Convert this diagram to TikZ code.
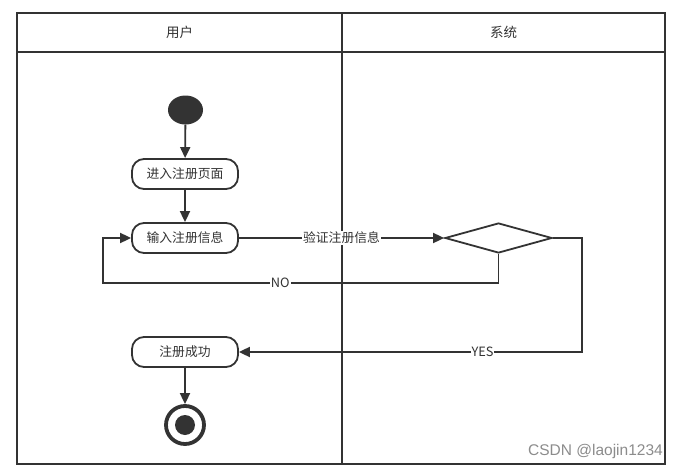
\documentclass[tikz,border=0pt]{standalone}
\usepackage{fontspec}
\newfontfamily\cjk{Noto Sans CJK SC}
\newfontfamily\wmfont{Liberation Sans}
\usetikzlibrary{shapes.geometric,arrows.meta}
\definecolor{ink}{HTML}{333333}
\tikzset{
  lane/.style={draw=ink,line width=2pt},
  act/.style={draw=ink,line width=1.8pt,rounded corners=12pt,minimum width=106pt,minimum height=30pt,inner sep=0pt,font=\cjk\fontsize{12.8}{14}\selectfont,text=ink},
  dec/.style={diamond,draw=ink,line width=1.8pt,minimum width=107pt,minimum height=30pt,inner sep=0pt,aspect=3.5},
  conn/.style={draw=ink,line width=1.8pt,-{Triangle[length=11pt,width=10pt]}},
  lbl/.style={fill=white,inner sep=1pt,font=\cjk\fontsize{12.8}{14}\selectfont,text=ink},
  hdr/.style={font=\cjk\fontsize{13.5}{15}\selectfont,text=ink},
}
\begin{document}
\begin{tikzpicture}[x=1pt,y=-1pt]
\useasboundingbox[fill=white] (0,0) rectangle (681,471);
% swimlanes
\draw[lane] (17,13) rectangle (665,464);
\draw[lane] (17,52) -- (665,52);
\draw[lane] (342,13) -- (342,464);
\node[hdr] (h1) at (179.5,32.5) {用户};
\node[hdr] (h2) at (503.5,32.5) {系统};
% nodes
\node[ellipse,fill=ink,minimum width=35pt,minimum height=29pt,inner sep=0pt] (start) at (185.5,110) {};
\node[act] (n1) at (185,174) {进入注册页面};
\node[act] (n2) at (185,238) {输入注册信息};
\node[dec] (d) at (498.5,238) {};
\node[act] (n3) at (185,352) {注册成功};
\node[circle,draw=ink,line width=3.8pt,minimum size=38pt,inner sep=0pt] (endo) at (185,425) {};
\node[circle,fill=ink,minimum size=20pt,inner sep=0pt] (endi) at (185,425) {};
\coordinate (cno) at (103,283);
\coordinate (cyes) at (582,238);
% connectors
\draw[conn] (start) -- (n1);
\draw[conn] (n1) -- (n2);
\draw[conn] (n2.east) -- node[lbl] {验证注册信息} (d.west);
\draw[conn] (d.south) -- (d.south |- cno) -- node[lbl,pos=0.552] {NO} (cno) -- (cno |- n2.west) -- (n2.west);
\draw[conn] (d.east) -- (cyes) -- (cyes |- n3.east) -- node[lbl,pos=0.29] {YES} (n3.east);
\draw[conn] (n3) -- (endo);
% watermark
\node[font=\wmfont\fontsize{15.5}{17}\selectfont,text=black!45,anchor=east,inner sep=0pt] (wm) at (663,451) {CSDN @laojin1234};
\end{tikzpicture}
\end{document}
